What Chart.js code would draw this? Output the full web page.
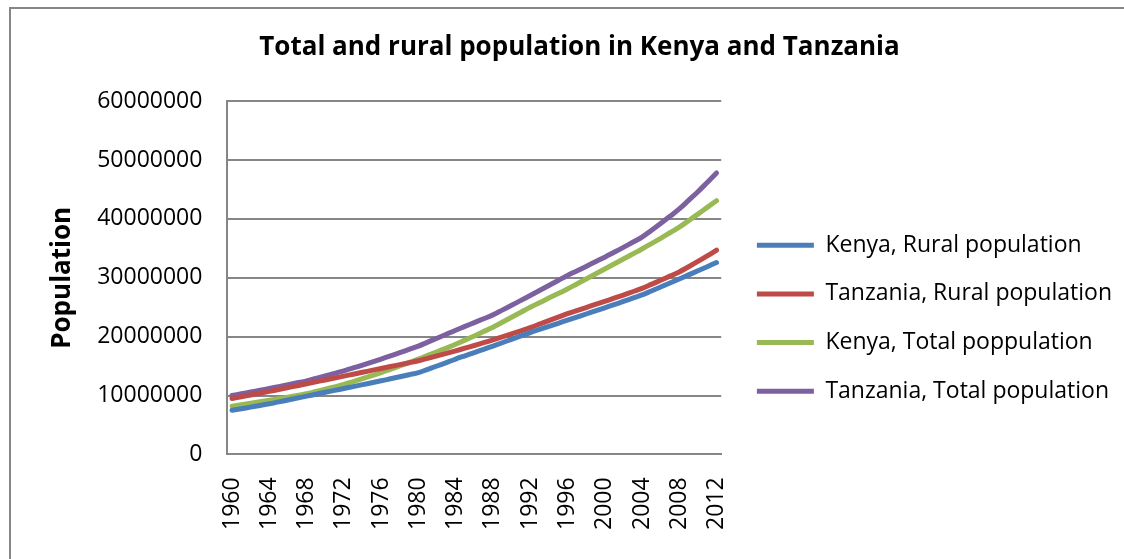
<!DOCTYPE html>
<html>
<head>
<meta charset="utf-8">
<script src="https://cdn.jsdelivr.net/npm/chart.js@4/dist/chart.umd.min.js"></script>
<style>
  html, body { margin: 0; padding: 0; background: #ffffff; }
  #wrap { position: relative; width: 1124px; height: 559px; overflow: hidden; }
  #frame { position: absolute; left: 9px; top: 7px; width: 1200px; height: 600px;
           border-left: 2px solid #868686; border-top: 2px solid #868686; }
  #chart { position: absolute; left: 0; top: 0; }
</style>
</head>
<body>
<div id="wrap">
  <div id="frame"></div>
  <canvas id="chart" width="1124" height="559"></canvas>
</div>
<script>
var years = [];
for (var y = 1960; y <= 2012; y++) { years.push(String(y)); }

var kenyaRural = [
  7500000, 7760000, 8030000, 8310000, 8600000, 8920000, 9240000, 9570000, 9900000, 10220000,
  10550000, 10870000, 11200000, 11520000, 11850000, 12170000, 12500000, 12840000, 13190000, 13540000,
  13900000, 14450000, 15020000, 15600000, 16200000, 16750000, 17300000, 17850000, 18400000, 18970000,
  19550000, 20120000, 20700000, 21220000, 21750000, 22270000, 22800000, 23320000, 23850000, 24370000,
  24900000, 25440000, 25990000, 26540000, 27100000, 27760000, 28430000, 29110000, 29800000, 30490000,
  31190000, 31890000, 32600000
];

var tanzaniaRural = [
  9500000, 9800000, 10100000, 10400000, 10700000, 11020000, 11350000, 11670000, 12000000, 12320000,
  12650000, 12970000, 13300000, 13620000, 13950000, 14270000, 14600000, 14920000, 15250000, 15570000,
  15900000, 16320000, 16750000, 17170000, 17600000, 18050000, 18500000, 18970000, 19450000, 19950000,
  20470000, 21000000, 21550000, 22130000, 22720000, 23310000, 23900000, 24420000, 24950000, 25470000,
  26000000, 26530000, 27070000, 27630000, 28200000, 28880000, 29570000, 30280000, 31000000, 31880000,
  32780000, 33720000, 34700000
];

var kenyaTotal = [
  8200000, 8440000, 8690000, 8940000, 9200000, 9460000, 9730000, 10010000, 10300000, 10680000,
  11070000, 11480000, 11900000, 12380000, 12870000, 13380000, 13900000, 14460000, 15030000, 15610000,
  16200000, 16810000, 17430000, 18060000, 18700000, 19410000, 20130000, 20860000, 21600000, 22440000,
  23290000, 24140000, 25000000, 25770000, 26550000, 27320000, 28100000, 28940000, 29790000, 30640000,
  31500000, 32340000, 33190000, 34040000, 34900000, 35800000, 36710000, 37650000, 38600000, 39700000,
  40820000, 41960000, 43100000
];

var tanzaniaTotal = [
  10000000, 10290000, 10590000, 10890000, 11200000, 11510000, 11830000, 12160000, 12500000, 12910000,
  13330000, 13760000, 14200000, 14680000, 15180000, 15680000, 16200000, 16730000, 17280000, 17830000,
  18400000, 19070000, 19740000, 20420000, 21100000, 21740000, 22390000, 23040000, 23700000, 24510000,
  25330000, 26160000, 27000000, 27850000, 28700000, 29550000, 30400000, 31170000, 31940000, 32720000,
  33500000, 34330000, 35170000, 36030000, 36900000, 38050000, 39220000, 40440000, 41700000, 43150000,
  44620000, 46200000, 47800000
];

var seriesNames = [
  'Kenya, Rural population',
  'Tanzania, Rural population',
  'Kenya, Total poppulation',
  'Tanzania, Total population'
];
var seriesColors = ['#4a7ebb', '#be4b48', '#98b954', '#7d60a0'];

var FONT = '"Open Sans", "DejaVu Sans", sans-serif';
var GRAY = '#868686';

function buildLineDataset(label, data, color) {
  return {
    label: label,
    data: data,
    borderColor: color,
    backgroundColor: color,
    borderWidth: 5,
    tension: 0.4,
    pointRadius: 0,
    pointHoverRadius: 0,
    borderCapStyle: 'round',
    fill: false
  };
}

// nudge the legend to the right, closer to where Excel puts it
var legendShift = {
  id: 'legendShift',
  afterLayout: function (chart) {
    if (chart.legend) {
      chart.legend.left += 10;
      chart.legend.right += 10;
    }
  }
};

new Chart(document.getElementById('chart'), {
  type: 'line',
  data: {
    labels: years,
    datasets: [
      buildLineDataset(seriesNames[0], kenyaRural, seriesColors[0]),
      buildLineDataset(seriesNames[1], tanzaniaRural, seriesColors[1]),
      buildLineDataset(seriesNames[2], kenyaTotal, seriesColors[2]),
      buildLineDataset(seriesNames[3], tanzaniaTotal, seriesColors[3])
    ]
  },
  plugins: [legendShift],
  options: {
    responsive: false,
    animation: false,
    events: [],
    layout: { padding: { left: 47, right: 12, top: 0, bottom: 6 } },
    plugins: {
      title: {
        display: true,
        text: 'Total and rural population in Kenya and Tanzania',
        color: '#000000',
        font: { family: FONT, size: 26, weight: 'bold' },
        padding: { top: 32, bottom: 38 }
      },
      legend: {
        position: 'right',
        align: 'start',
        maxWidth: 420,
        title: {
          display: true,
          text: ' ',
          font: { family: FONT, size: 10 },
          padding: { top: 196, bottom: 0 }
        },
        labels: {
          color: '#000000',
          font: { family: FONT, size: 23 },
          usePointStyle: true,
          pointStyle: 'line',
          pointStyleWidth: 57,
          padding: 25.7
        }
      },
      tooltip: { enabled: false }
    },
    scales: {
      x: {
        offset: true,
        grid: { display: false, drawTicks: false },
        border: { display: true, color: GRAY, width: 2 },
        ticks: {
          autoSkip: false,
          maxRotation: 90,
          minRotation: 90,
          padding: 23,
          color: '#000000',
          font: { family: FONT, size: 23 },
          callback: function (value, index) {
            return index % 4 === 0 ? years[index] : '';
          }
        }
      },
      y: {
        min: 0,
        max: 60000000,
        grid: { color: GRAY, lineWidth: 2, drawTicks: false },
        border: { display: true, color: GRAY, width: 2 },
        title: {
          display: true,
          text: 'Population',
          color: '#000000',
          font: { family: FONT, size: 26, weight: 'bold' },
          padding: { top: 0, bottom: -6 }
        },
        ticks: {
          stepSize: 10000000,
          padding: 25,
          color: '#000000',
          font: { family: FONT, size: 23 },
          callback: function (value) { return String(value); }
        }
      }
    }
  }
});
</script>
</body>
</html>
